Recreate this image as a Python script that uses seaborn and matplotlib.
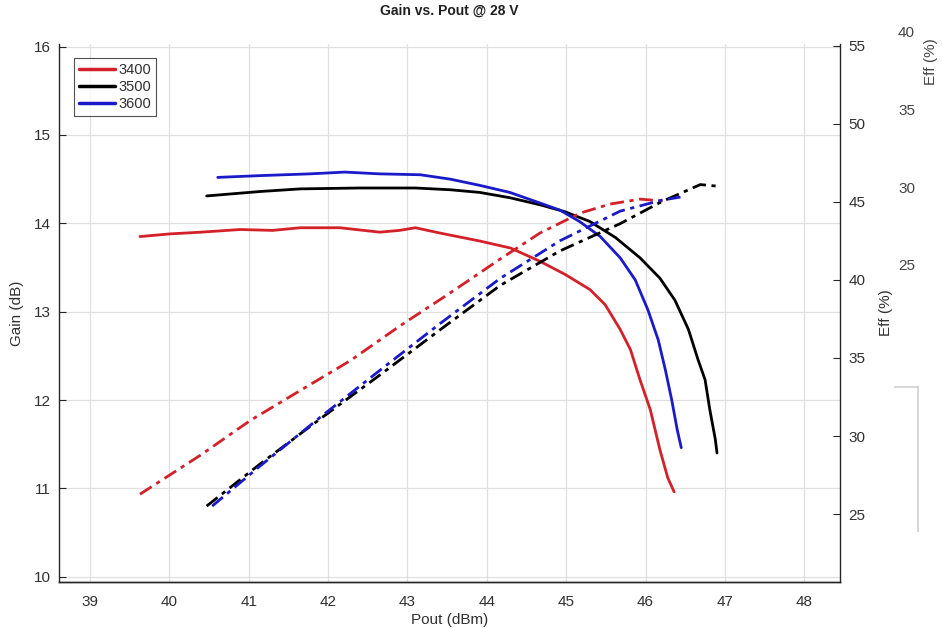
import matplotlib
matplotlib.use("Agg")
import matplotlib.pyplot as plt
import seaborn as sns
import pandas as pd

# ---------------- data ----------------
freqs = ["3400", "3500", "3600"]
colors = ["#d42028", "#000000", "#1a1ac8"]

pout_gain_3400 = [39.63, 40.0, 40.4, 40.89, 41.3, 41.65, 42.15, 42.65, 42.9, 43.1, 43.41, 43.91,
                  44.3, 44.67, 44.99, 45.3, 45.49, 45.68, 45.81, 45.93, 46.06, 46.18, 46.28, 46.36]
gain_3400 = [13.85, 13.88, 13.9, 13.93, 13.92, 13.95, 13.95, 13.9, 13.92, 13.95, 13.89, 13.8,
             13.72, 13.57, 13.42, 13.25, 13.08, 12.8, 12.57, 12.23, 11.89, 11.44, 11.12, 10.96]

pout_gain_3500 = [40.47, 41.14, 41.65, 42.4, 43.1, 43.54, 43.91, 44.29, 44.67, 44.99, 45.3,
                  45.62, 45.93, 46.18, 46.37, 46.54, 46.66, 46.75, 46.81, 46.88, 46.9]
gain_3500 = [14.31, 14.36, 14.39, 14.4, 14.4, 14.38, 14.35, 14.29, 14.21, 14.13, 14.02,
             13.84, 13.61, 13.38, 13.13, 12.8, 12.46, 12.23, 11.89, 11.55, 11.4]

pout_gain_3600 = [40.61, 41.14, 41.77, 42.21, 42.65, 43.16, 43.54, 43.91, 44.29, 44.67, 44.92,
                  45.17, 45.43, 45.68, 45.87, 46.03, 46.16, 46.25, 46.33, 46.4, 46.45]
gain_3600 = [14.52, 14.54, 14.56, 14.58, 14.56, 14.55, 14.5, 14.43, 14.35, 14.23, 14.15,
             14.02, 13.85, 13.61, 13.36, 13.02, 12.68, 12.34, 12.0, 11.66, 11.46]

pout_eff_3400 = [39.63, 40.39, 41.02, 41.65, 42.28, 42.91, 43.54, 44.17, 44.67, 45.18, 45.55, 45.93, 46.25]
eff_3400 = [26.28, 28.77, 31.0, 32.92, 34.83, 37.07, 39.17, 41.34, 43.0, 44.28, 44.85, 45.17, 45.04]

pout_eff_3500 = [40.47, 41.14, 41.9, 42.65, 43.41, 44.17, 44.92, 45.68, 46.2, 46.69, 46.9]
eff_3500 = [25.52, 28.2, 31.1, 33.9, 36.8, 39.65, 41.85, 43.6, 45.0, 46.1, 46.0]

pout_eff_3600 = [40.54, 41.14, 41.9, 42.65, 43.41, 44.17, 44.92, 45.68, 46.2, 46.44]
eff_3600 = [25.52, 28.07, 31.2, 34.2, 37.2, 40.1, 42.5, 44.4, 45.1, 45.3]

x_ticks = [39, 40, 41, 42, 43, 44, 45, 46, 47, 48]
gain_ticks = [10, 11, 12, 13, 14, 15, 16]
eff_ticks = [25, 30, 35, 40, 45, 50, 55]
eff2_ticks = [25, 30, 35, 40]

gain_df = pd.concat([
    pd.DataFrame({"Pout": pout_gain_3400, "Gain": gain_3400, "Freq": "3400"}),
    pd.DataFrame({"Pout": pout_gain_3500, "Gain": gain_3500, "Freq": "3500"}),
    pd.DataFrame({"Pout": pout_gain_3600, "Gain": gain_3600, "Freq": "3600"}),
], ignore_index=True)
eff_df = pd.concat([
    pd.DataFrame({"Pout": pout_eff_3400, "Eff": eff_3400, "Freq": "3400"}),
    pd.DataFrame({"Pout": pout_eff_3500, "Eff": eff_3500, "Freq": "3500"}),
    pd.DataFrame({"Pout": pout_eff_3600, "Eff": eff_3600, "Freq": "3600"}),
], ignore_index=True)

# ---------------- style ----------------
sns.set_style("white")
plt.rcParams["font.family"] = ["Liberation Sans", "DejaVu Sans"]
plt.rcParams["font.size"] = 11
txt = "#303030"

W, H = 942, 628
fig = plt.figure(figsize=(W / 100, H / 100), dpi=100)
L, R, T, B = 59, 840, 44, 582
ax = fig.add_axes([L / W, 1 - B / H, (R - L) / W, (B - T) / H])
ax2 = ax.twinx()

palette = dict(zip(freqs, colors))
sns.lineplot(data=gain_df, x="Pout", y="Gain", hue="Freq", palette=palette, ax=ax,
             estimator=None, sort=False, linewidth=2.0, legend=False)
sns.lineplot(data=eff_df, x="Pout", y="Eff", hue="Freq", palette=palette, ax=ax2,
             estimator=None, sort=False, linewidth=2.0, linestyle=(0, (5, 2, 1.5, 2)),
             legend=False)

ax.set_xlim(38.61, 48.45)
ax.set_ylim(9.94, 16.03)
ax2.set_ylim(20.66, 55.1)
ax.set_xticks(x_ticks)
ax.set_xticklabels([str(v) for v in x_ticks])
ax.set_yticks(gain_ticks)
ax2.set_yticks(eff_ticks)

ax.grid(True, color="#e0e0e0", linewidth=0.9)
ax.set_axisbelow(True)
for a in (ax, ax2):
    a.spines["top"].set_visible(False)
    for s in ("left", "right", "bottom"):
        a.spines[s].set_color("#262626")
        a.spines[s].set_linewidth(1.0)
    a.tick_params(direction="in", length=5, width=0.8, colors="#262626", labelcolor=txt,
                  labelsize=11)
ax.tick_params(axis="x", pad=9)
ax.tick_params(axis="y", pad=6)
ax2.tick_params(axis="y", pad=6)
ax2.spines["left"].set_visible(False)
ax.spines["right"].set_visible(False)

ax.set_xlabel("Pout (dBm)", color=txt, fontsize=11, labelpad=3)
ax.set_ylabel("Gain (dB)", color=txt, fontsize=11, labelpad=7)
ax2.set_ylabel("Eff (%)", color=txt, fontsize=11, labelpad=10)
ax.set_title("Gain vs. Pout @ 28 V", fontweight="bold", fontsize=10, color="#202020", pad=21)

handles = [plt.Line2D([], [], color=c, linewidth=2.5) for c in colors]
leg = ax.legend(handles, freqs, loc="upper left", bbox_to_anchor=(0.019, 0.974),
                borderaxespad=0, frameon=True, fancybox=False, edgecolor="#262626",
                fontsize=10.5, handlelength=2.5, handletextpad=0.2, labelspacing=0.2,
                borderpad=0.35)
leg.get_frame().set_linewidth(0.8)
for t in leg.get_texts():
    t.set_color(txt)

# third (detached) efficiency axis at far right
ax3 = fig.add_axes([893 / W, 1 - 280 / H, 0.001, 260 / H])
ax3.set_ylim(24.03, 40.77)
ax3.set_yticks(eff2_ticks)
ax3.set_xticks([])
ax3.yaxis.tick_right()
ax3.tick_params(axis="y", length=0, pad=3, labelcolor="#444444", labelsize=11)
for s in ax3.spines.values():
    s.set_visible(False)
ax3.patch.set_visible(False)
ax3.yaxis.set_label_position("right")
ax3.set_ylabel("Eff (%)", color="#444444", fontsize=11, rotation=90, va="center", ha="center")
ax3.yaxis.set_label_coords(931 / W, 1 - 62 / H, transform=fig.transFigure)

# faint bracket (hidden axes outline)
ax4 = fig.add_axes([895 / W, 1 - 531 / H, 23 / W, 144 / H])
ax4.set_xticks([])
ax4.set_yticks([])
ax4.patch.set_visible(False)
for s in ("left", "bottom"):
    ax4.spines[s].set_visible(False)
for s in ("top", "right"):
    ax4.spines[s].set_color("#cfcfcf")
    ax4.spines[s].set_linewidth(1.2)

fig.savefig("out.png", dpi=100)
